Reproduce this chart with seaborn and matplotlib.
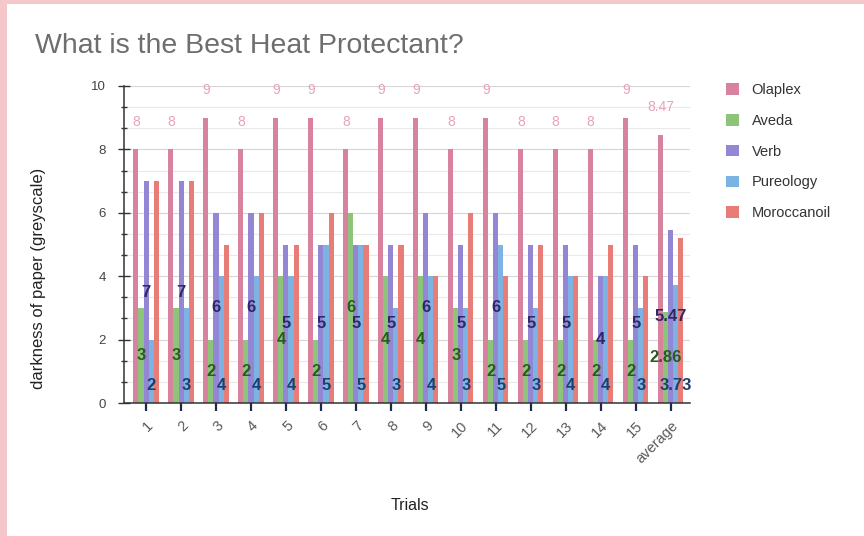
import matplotlib.pyplot as plt
import numpy as np
import pandas as pd
import seaborn as sns
from matplotlib.patches import Rectangle
from matplotlib.ticker import MultipleLocator
from matplotlib.transforms import ScaledTranslation

#%% data
trials = [str(i) for i in range(1, 16)] + ['average']
olaplex = [8, 8, 9, 8, 9, 9, 8, 9, 9, 8, 9, 8, 8, 8, 9, 8.47]
aveda = [3, 3, 2, 2, 4, 2, 6, 4, 4, 3, 2, 2, 2, 2, 2, 2.86]
verb = [7, 7, 6, 6, 5, 5, 5, 5, 6, 5, 6, 5, 5, 4, 5, 5.47]
pureology = [2, 3, 4, 4, 4, 5, 5, 3, 4, 3, 5, 3, 4, 4, 3, 3.73]
moroccanoil = [7, 7, 5, 6, 5, 6, 5, 5, 4, 6, 4, 5, 4, 5, 4, 5.2]
products = ['Olaplex', 'Aveda', 'Verb', 'Pureology', 'Moroccanoil']
colors = ['#d8829d', '#8dc47a', '#9386d4', '#7db3e3', '#e87c76']

df = pd.DataFrame({'trial': trials * 5,
                   'value': olaplex + aveda + verb + pureology + moroccanoil,
                   'product': np.repeat(products, len(trials))})

sns.set_theme(style='whitegrid')
plt.rcParams['font.family'] = ['Liberation Sans', 'DejaVu Sans']

#%% plot
fig = plt.figure(figsize=(8.64, 5.36), dpi=100, facecolor='#f4c7cb')
fig.patches.append(Rectangle((7/864, 0), 1, 1 - 4/536, transform=fig.transFigure,
                             facecolor='white', edgecolor='none', zorder=-1))
ax = fig.add_axes([124/864, 1 - 403/536, 566/864, 317/536])

sns.barplot(data=df, x='trial', y='value', hue='product', hue_order=products,
            palette=colors, width=0.72, saturation=1, linewidth=0, ax=ax)

ax.set_ylim(0, 10)
ax.set_xlim(-0.63, 15.55)
ax.yaxis.set_major_locator(MultipleLocator(2))
ax.yaxis.set_minor_locator(MultipleLocator(2/3))
ax.grid(False, axis='x')
ax.grid(True, which='major', axis='y', color='#d6d6d6', lw=0.8)
ax.grid(True, which='minor', axis='y', color='#e9e9e9', lw=0.8)
ax.set_axisbelow(True)
for s in ['top', 'right']:
    ax.spines[s].set_visible(False)
for s in ['left', 'bottom']:
    ax.spines[s].set_color('#333333')
    ax.spines[s].set_linewidth(1.1)

ax.tick_params(axis='y', which='major', direction='inout', length=8, width=1,
               color='#333333', labelsize=9.5, labelcolor='#444444', pad=9, left=True)
ax.tick_params(axis='y', which='minor', direction='inout', length=5, width=1,
               color='#333333', left=True)
ax.tick_params(axis='x', direction='inout', length=11, width=1.6, color='#1f2a4a',
               labelsize=10.5, labelcolor='#5a5a5a', pad=6, bottom=True)
for lab in ax.get_xticklabels():
    lab.set_rotation(45)
    lab.set_ha('right')
    lab.set_va('top')
    lab.set_transform(lab.get_transform() + ScaledTranslation(10/100, 0, fig.dpi_scale_trans))

ax.set(xlabel='', ylabel='')

# value labels
label_style = {
    'Olaplex': dict(color='#e8a3b6', size=10, weight='normal', pos=lambda h: h + 0.87),
    'Aveda': dict(color='#2b5a22', size=12, weight='bold', pos=lambda h: h / 2),
    'Verb': dict(color='#2c2966', size=12, weight='bold', pos=lambda h: h / 2),
    'Pureology': dict(color='#1d3f6e', size=12, weight='bold', pos=lambda h: 0.55),
}
for prod, cont in zip(products, ax.containers):
    if prod not in label_style:
        continue
    st = label_style[prod]
    for bar in cont:
        h = bar.get_height()
        ax.text(bar.get_x() + bar.get_width() / 2, st['pos'](h), f'{h:g}',
                ha='center', va='center', color=st['color'], fontsize=st['size'],
                fontweight=st['weight'])

handles, labels = ax.get_legend_handles_labels()
ax.get_legend().remove()
fig.legend(handles, labels, loc='upper left', bbox_to_anchor=(713/864, 1 - 70/536),
           frameon=False, handlelength=0.85, handleheight=0.85, handletextpad=0.9,
           labelspacing=1.15, fontsize=10.5, labelcolor='#333333')

fig.text(35/864, 1 - 46/536, 'What is the Best Heat Protectant?', fontsize=20.5,
         color='#6e6e6e', va='center', ha='left')
fig.text(39/864, 1 - 278/536, 'darkness of paper (greyscale)', rotation=90,
         fontsize=12, color='#222222', va='center', ha='center')
fig.text(410/864, 1 - 505/536, 'Trials', fontsize=11.5, color='#222222',
         va='center', ha='center')

fig.savefig('out.png', dpi=100, facecolor=fig.get_facecolor())
